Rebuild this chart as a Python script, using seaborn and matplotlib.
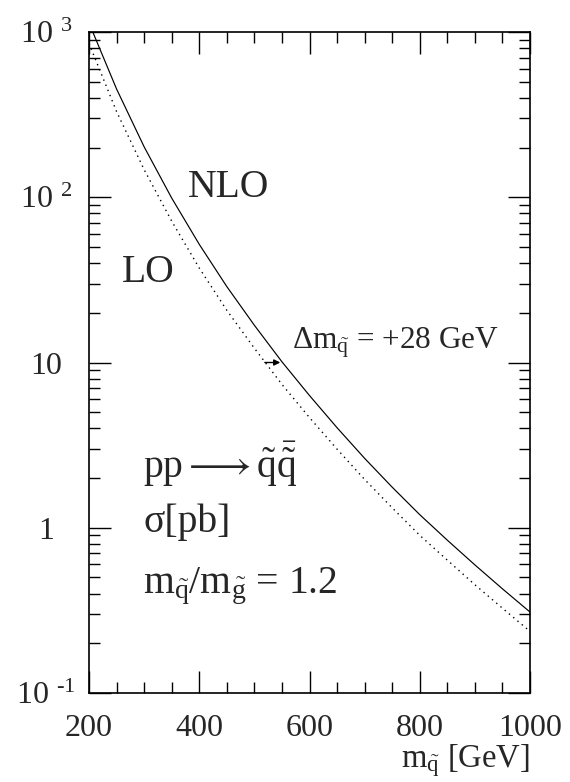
import numpy as np
import pandas as pd
import matplotlib
matplotlib.use("Agg")
import matplotlib.pyplot as plt
from matplotlib.ticker import MultipleLocator, LogLocator, NullFormatter, FixedLocator
import seaborn as sns

# ---- data ----
mass = [200, 250, 300, 350, 400, 450, 500, 550, 600, 650, 700, 750, 800, 850, 900, 950, 1000]
sigma_nlo = [1135, 452, 202, 98.9, 51.9, 28.8, 16.8, 10.1, 6.31, 4.03, 2.63, 1.76, 1.20, 0.841, 0.596, 0.427, 0.309]
sigma_lo = [853, 330, 147, 71.7, 37.3, 20.7, 12.2, 7.37, 4.64, 2.99, 1.96, 1.32, 0.90, 0.637, 0.452, 0.326, 0.236]
x_ticks = [200, 400, 600, 800, 1000]
y_ticks = [0.1, 1, 10, 100, 1000]
y_ticklabels = [r"$10^{\,\ \text{-}1}$", "1", "10", r"$10^{\,\ 2}$", r"$10^{\,\ 3}$"]
arrow_from, arrow_to, arrow_sigma = 519, 547, 10
delta_label = r"$\Delta\mathrm{m}_{\tilde{\mathrm{q}}}$ = +28 GeV"

df = pd.DataFrame({"mass": mass, "NLO": sigma_nlo, "LO": sigma_lo})

sns.set_style("ticks")
plt.rcParams["font.family"] = ["Liberation Serif", "DejaVu Serif"]
plt.rcParams["mathtext.fontset"] = "custom"
plt.rcParams["mathtext.rm"] = "Liberation Serif"
plt.rcParams["mathtext.it"] = "Liberation Serif:italic"
plt.rcParams["mathtext.bf"] = "Liberation Serif:bold"

fig = plt.figure(figsize=(5.70, 7.82), dpi=100)
ax = fig.add_axes([89 / 570, 1 - 693 / 782, (530 - 89) / 570, (693 - 32) / 782])

sns.lineplot(data=df, x="mass", y="NLO", ax=ax, color="black", lw=0.85)
sns.lineplot(data=df, x="mass", y="LO", ax=ax, color="black", lw=1.0, linestyle=(0, (1, 3)))

ax.set_yscale("log")
ax.set_xlim(200, 1000)
ax.set_ylim(0.1, 1000)
ax.set_xlabel("")
ax.set_ylabel("")

ax.xaxis.set_major_locator(FixedLocator(x_ticks))
ax.xaxis.set_minor_locator(MultipleLocator(50))
ax.set_xticklabels([str(v) for v in x_ticks])
ax.yaxis.set_major_locator(FixedLocator(y_ticks))
ax.yaxis.set_minor_locator(LogLocator(base=10, subs=np.arange(2, 10)))
ax.yaxis.set_minor_formatter(NullFormatter())
ax.set_yticklabels(y_ticklabels)
for lab in ax.get_yticklabels():
    lab.set_horizontalalignment("center")

ax.tick_params(which="both", direction="in", top=True, right=True, width=1.0, color="black")
ax.tick_params(which="major", length=16)
ax.tick_params(which="minor", length=8)
ax.tick_params(axis="x", which="major", labelsize=23, pad=15)
ax.tick_params(axis="y", which="major", labelsize=23, pad=31)
for s in ax.spines.values():
    s.set_linewidth(1.2)
    s.set_color("black")

# labels
ax.text(380, 100, "NLO", fontsize=28.5, ha="left", va="baseline")
ax.text(260, 30.7, "LO", fontsize=28.5, ha="left", va="baseline")
ax.text(298, 2.0, r"$\mathrm{pp}\longrightarrow\tilde{\mathrm{q}}\bar{\tilde{\mathrm{q}}}$", fontsize=28.5, ha="left", va="baseline")
ax.text(298, 0.94, "σ[pb]", fontsize=28.5, ha="left", va="baseline")
ax.text(298, 0.40, r"$\mathrm{m}_{\tilde{\mathrm{q}}}/\mathrm{m}_{\tilde{\mathrm{g}}}$ = 1.2", fontsize=28.5, ha="left", va="baseline")
ax.text(568, 12.2, delta_label, fontsize=22.5, ha="left", va="baseline")
ax.annotate("", xy=(arrow_to, arrow_sigma), xytext=(arrow_from, arrow_sigma),
            arrowprops=dict(arrowstyle="-|>", color="black", lw=1.0, mutation_scale=9, shrinkA=0, shrinkB=0))

fig.text(530 / 570, 15 / 782, r"$\mathrm{m}_{\tilde{\mathrm{q}}}$ [GeV]", fontsize=23.5, ha="right", va="baseline")

fig.savefig("out.png", dpi=100)
